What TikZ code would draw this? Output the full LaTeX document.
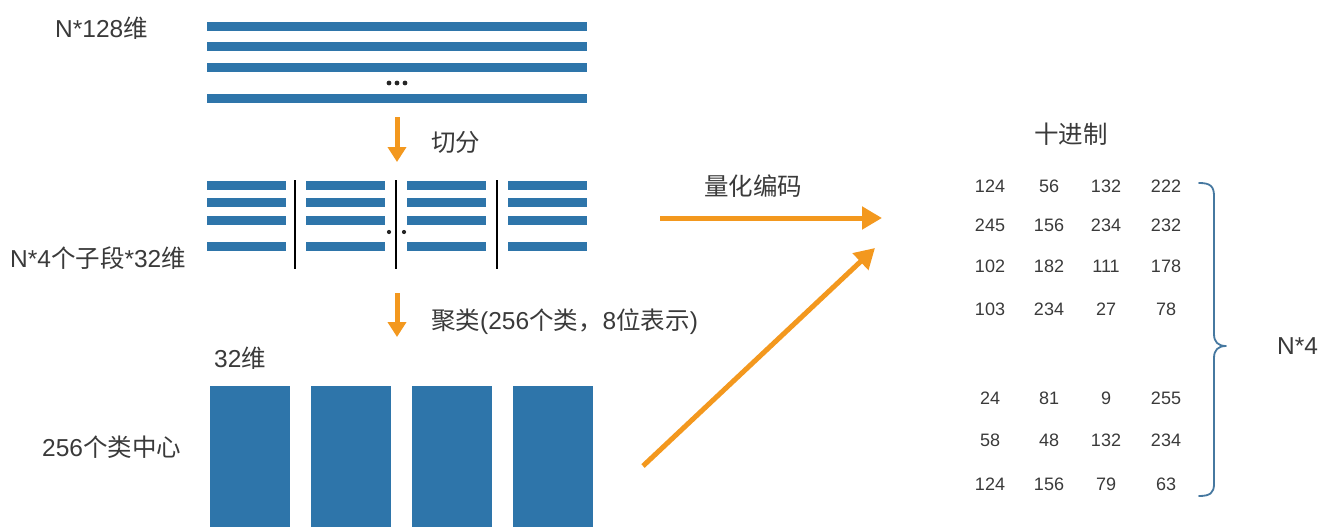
\documentclass[tikz,border=0pt]{standalone}
\usepackage{fontspec}
\setmainfont{Liberation Sans}
\newfontfamily\cjk{Noto Sans CJK SC}
\usetikzlibrary{arrows.meta}
\definecolor{barblue}{RGB}{46,117,170}
\definecolor{arroworange}{RGB}{243,152,30}
\definecolor{txt}{RGB}{58,58,58}
\definecolor{bracec}{RGB}{70,120,160}
\tikzset{
  bar/.style={fill=barblue,draw=none},
  sep/.style={line width=2.2pt,black},
  flow/.style={draw=arroworange,line width=5pt,-{Triangle[length=20pt,width=22pt]}},
  flowdown/.style={draw=arroworange,line width=5pt,-{Triangle[length=15pt,width=18pt]}},
  lbl/.style={text=txt,font=\fontsize{24.5}{29}\selectfont,inner sep=0pt},
  num/.style={text=txt,font=\fontsize{18}{21}\selectfont,inner sep=0pt},
  center/.style={fill=barblue,draw=none},
  dot/.style={fill=black!85,draw=none}
}
\begin{document}
\begin{tikzpicture}[x=1pt,y=-1pt]
\useasboundingbox (0,0) rectangle (1325,527);
\fill[white] (0,0) rectangle (1325,527);
% top bars
\foreach \y in {27,47,68,98} {\fill[bar] (207,\y-4.5) rectangle (587,\y+4.5);}
\foreach \x in {389,397,405} {\fill[dot] (\x,83) circle (2.4);}
\node[lbl,anchor=west] (t1) at (55,28) {N*128{\cjk 维}};
% split arrow
\coordinate (a1s) at (397,117);
\coordinate (a1e) at (397,162);
\draw[flowdown] (a1s) -- (a1e);
\node[lbl,anchor=west] (l1) at (431,142) {\cjk 切分};
% second bars
\foreach \x in {207,306,407,508} {
  \foreach \y in {185,202,220,246} {\fill[bar] (\x,\y-4.5) rectangle (\x+79,\y+4.5);}
}
\foreach \x in {295,396,497} {\draw[sep] (\x,180) -- (\x,269);}
\foreach \x in {389,404} {\fill[dot] (\x,232) circle (2.1);}
\node[lbl,anchor=west] (t2) at (10,258) {N*4{\cjk 个子段}*32{\cjk 维}};
% cluster arrow
\coordinate (a2s) at (397,293);
\coordinate (a2e) at (397,337);
\draw[flowdown] (a2s) -- (a2e);
\node[lbl,anchor=west] (l2) at (431,322) {{\cjk 聚类}(256{\cjk 个类，}8{\cjk 位表示})};
% centers
\node[lbl,anchor=west] (t3) at (214,358) {32{\cjk 维}};
\foreach \x in {210,311,412,513} {\fill[center] (\x,386) rectangle (\x+80,527);}
\node[lbl,anchor=west] (t4) at (42,447) {256{\cjk 个类中心}};
% quant arrow
\coordinate (q1s) at (660,218);
\coordinate (q1e) at (882,218);
\draw[flow] (q1s) -- (q1e);
\node[lbl] (lq) at (753,186) {\cjk 量化编码};
\coordinate (q2s) at (643,466);
\coordinate (q2e) at (875,248);
\draw[flow] (q2s) -- (q2e);
% table
\node[lbl] (hdr) at (1071,134) {\cjk 十进制};
\def\cA{990}\def\cB{1049}\def\cC{1106}\def\cD{1166}
\foreach \r/\y/\a/\b/\c/\d in {1/186/124/56/132/222,2/225/245/156/234/232,3/266/102/182/111/178,4/309/103/234/27/78,5/398/24/81/9/255,6/440/58/48/132/234,7/484/124/156/79/63} {
  \node[num] (n\r a) at (\cA,\y) {\a};
  \node[num] (n\r b) at (\cB,\y) {\b};
  \node[num] (n\r c) at (\cC,\y) {\c};
  \node[num] (n\r d) at (\cD,\y) {\d};
}
% brace
\draw[bracec,line width=1.8pt,line cap=round,line join=round]
  (1199,183) .. controls (1210,183) and (1214,186) .. (1214,196)
  -- (1214,334) .. controls (1214,342) and (1218,346) .. (1226,346)
  .. controls (1218,346) and (1214,350) .. (1214,358)
  -- (1214,484) .. controls (1214,493) and (1210,496) .. (1199,496);
\node[lbl,anchor=west] (n4) at (1277,346) {N*4};
\end{tikzpicture}
\end{document}
